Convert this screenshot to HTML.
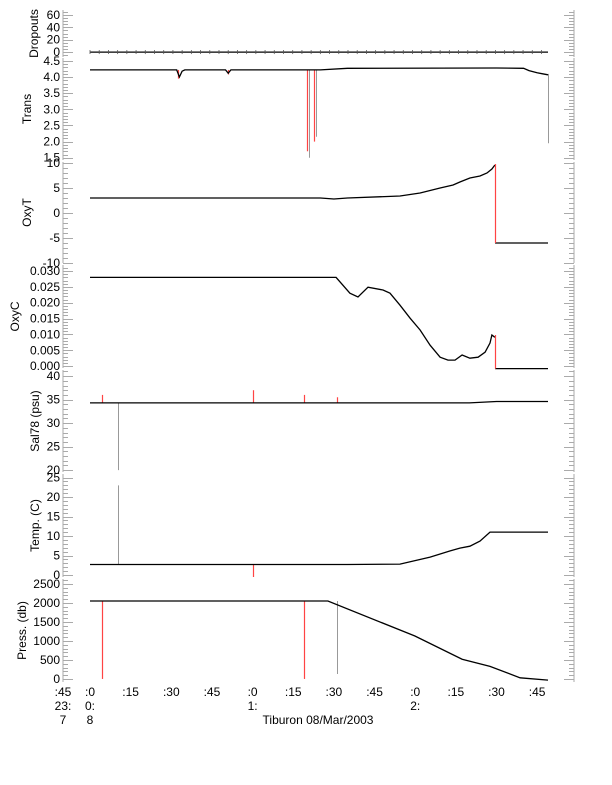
<!DOCTYPE html>
<html><head><meta charset="utf-8"><style>
html,body{margin:0;padding:0;background:#fff}
svg{display:block;font-family:"Liberation Sans",sans-serif}
</style></head><body>
<svg id="c" width="612" height="785" viewBox="0 0 612 785" xmlns="http://www.w3.org/2000/svg"></svg>
<script>
// ---- data (minutes after 00:00, values) ----
const xTickMinutes = [-10,0,15,30,45,60,75,90,105,120,135,150,165];
const xTickLabels1 = [":45",":0",":15",":30",":45",":0",":15",":30",":45",":0",":15",":30",":45"];
const xTickLabels2 = ["23:","0:","","","","1:","","","","2:","","",""];
const xTickLabels3 = ["7","8","","","","","","","","","","",""];

const dropT = [0,169];
const dropV = [0,0];

const transT = [0,32,33,34,35,50,51,52,85,95,150,160,162,165,167,169];
const transV = [4.22,4.22,4.0,4.18,4.22,4.22,4.12,4.22,4.22,4.27,4.28,4.27,4.2,4.13,4.1,4.07];
const transSpikeT = [32.5,50.8,80.2,82.6];
const transSpikeV = [3.95,4.08,1.7,2.0];
const transGrayT = [80.8,83.4,169];
const transGrayV = [1.5,2.15,1.95];

const oxyTT = [0,85,90,95,114.4,121.8,129.2,134,136.5,140.2,143.9,146.5,148.3,149.4,149.5,169];
const oxyTV = [3,3,2.8,3,3.4,4,5,5.6,6.2,7,7.4,8,8.8,9.6,-6,-6];

const oxyCT = [0,90.8,95.9,98.9,102.6,108.1,110.7,114.4,118.1,121.8,125.5,129.2,132.1,134.7,137.3,140.2,143.2,145.8,147.6,148.3,149.4,149.5,169];
const oxyCV = [0.028,0.028,0.023,0.0218,0.0249,0.024,0.023,0.0192,0.0151,0.0114,0.0066,0.0028,0.0019,0.0019,0.0035,0.0025,0.0028,0.0044,0.0073,0.0098,0.0091,-0.0008,-0.0008];

const salT = [0,140,150,169];
const salV = [34.3,34.3,34.6,34.6];
const salSpikeT = [4.4,60,79,91];
const salSpikeV = [36,37,36,35.5];
const salGrayT = [10.3];
const salGrayV = [20];

const tempT = [0,95,114.4,125.5,132.9,136.5,140.2,143.9,147.6,169];
const tempV = [2.7,2.7,2.8,4.6,6.2,6.9,7.4,8.7,11,11];
const tempSpikeT = [60];
const tempSpikeV = [-0.5];
const tempGrayT = [10.3];
const tempGrayV = [23];

const pressT = [0,87.8,119.9,137.3,147.6,158.7,169];
const pressV = [2050,2050,1130,520,330,30,-30];
const pressSpikeT = [4.4,79];
const pressSpikeV = [0,0];
const pressGrayT = [91];
const pressGrayV = [130];

// ---- layout ----
const svg = document.getElementById('c');
const NS = 'http://www.w3.org/2000/svg';
const X0 = 90, PXM = 2.71, AXL = 63, AXR = 574;
function xs(m){ return Math.max(AXL, X0 + m*PXM); }
function mk(tag, attrs, parent){ const e=document.createElementNS(NS,tag); for(const k in attrs) e.setAttribute(k,attrs[k]); (parent||svg).appendChild(e); return e; }

const panels = [
 {name:'dropouts', title:'Dropouts', tx:34, top:10, bot:57, lo:-8, hi:68, major:20, minor:5, majors:[0,20,40,60], fmt:v=>String(v)},
 {name:'trans', title:'Trans', tx:27, top:58, bot:160, lo:1.43, hi:4.59, major:0.5, minor:0.1, majors:[1.5,2,2.5,3,3.5,4,4.5], fmt:v=>v.toFixed(1)},
 {name:'oxyt', title:'OxyT', tx:27, top:162, bot:263, lo:-10, hi:10.2, major:5, minor:1, majors:[-10,-5,0,5,10], fmt:v=>String(v)},
 {name:'oxyc', title:'OxyC', tx:15, top:265, bot:368, lo:-0.0006, hi:0.0319, major:0.005, minor:0.001, majors:[0,0.005,0.01,0.015,0.02,0.025,0.03], fmt:v=>v.toFixed(3)},
 {name:'sal78', title:'Sal78 (psu)', tx:35, top:370, bot:472, lo:19.6, hi:41.3, major:5, minor:1, majors:[20,25,30,35,40], fmt:v=>String(v)},
 {name:'temp', title:'Temp. (C)', tx:35, top:474, bot:577, lo:-0.5, hi:25.9, major:5, minor:1, majors:[0,5,10,15,20,25], fmt:v=>String(v)},
 {name:'press', title:'Press. (db)', tx:22, top:579, bot:682, lo:-80, hi:2630, major:500, minor:100, majors:[0,500,1000,1500,2000,2500], fmt:v=>String(v)}
];
function ysF(p){ return v => p.bot - (v-p.lo)/(p.hi-p.lo)*(p.bot-p.top); }

panels.forEach(p=>{
  const g = mk('g',{});
  
  
  const ys = ysF(p);
  const la = mk('line',{x1:AXL,x2:AXL,y1:p.top,y2:p.bot,stroke:'#aaa','stroke-width':1},g);
  
  
  const ra = mk('line',{x1:AXR,x2:AXR,y1:p.top,y2:p.bot,stroke:'#aaa','stroke-width':1},g);
  
  
  const n0 = Math.ceil(p.lo/p.minor - 1e-6), n1 = Math.floor(p.hi/p.minor + 1e-6);
  for(let i=n0;i<=n1;i++){
    const v=i*p.minor, y=Math.round(ys(v))+0.5;
    const isMaj = Math.abs(v/p.major - Math.round(v/p.major))<1e-6;
    const L = isMaj?10:5;
    mk('line',{x1:AXL,x2:AXL+L,y1:y,y2:y,stroke:'#aaa','stroke-width':1},g);
    mk('line',{x1:AXR-L,x2:AXR,y1:y,y2:y,stroke:'#aaa','stroke-width':1},g);
  }
  p.majors.forEach(v=>{
    const t = mk('text',{x:60,y:ys(v)+4,'text-anchor':'end','font-size':12,fill:'#000'},g);
    t.textContent = p.fmt(v);
    
    
  });
  const cy=(p.top+p.bot)/2;
  const tt = mk('text',{x:p.tx,y:cy,'text-anchor':'middle','font-size':12,fill:'#000',transform:`rotate(-90 ${p.tx} ${cy})`,dy:4},g);
  tt.textContent = p.title;
  
  
  p.g=g; p.ys=ys;
});

function series(p, T, V, name){
  let d='';
  for(let i=0;i<T.length;i++){
    const x=xs(T[i]), y=p.ys(V[i]);
    let cmd='L';
    if(i===0) cmd='M';
    else { const dx=x-xs(T[i-1]), dy=Math.abs(y-p.ys(V[i-1])); if(dx<1 && dy>5) cmd='M'; }
    d+=cmd+x.toFixed(1)+','+y.toFixed(1)+' ';
  }
  const e = mk('path',{d:d,fill:'none',stroke:'#000','stroke-width':1.3},p.g);
  
  
}
function spikes(p, baseT, baseV, T, V, color, name){
  T.forEach((t,i)=>{
    let b=baseV[baseV.length-1];
    for(let k=0;k<baseT.length-1;k++){ if(t>=baseT[k]&&t<=baseT[k+1]){ b=baseV[k]; break; } }
    const x=Math.round(xs(t))+0.5;
    const e = mk('line',{x1:x,x2:x,y1:p.ys(b),y2:p.ys(V[i]),stroke:color,'stroke-width':color===RED?1.2:1},p.g);
    
    
  });
}
const P = {}; panels.forEach(p=>P[p.name]=p);
const RED='#ff4444', GRAY='#999';

series(P.dropouts, dropT, dropV, 'dropouts-line');
for(let m=0;m<=169;m+=3.4){ const x=xs(m); mk('line',{x1:x,x2:x,y1:P.dropouts.ys(0)-2,y2:P.dropouts.ys(0)+2,stroke:'#555','stroke-width':0.8},P.dropouts.g); }

spikes(P.trans, transT, transV, transGrayT, transGrayV, GRAY, 'trans-outlier');
spikes(P.trans, transT, transV, transSpikeT, transSpikeV, RED, 'trans-spike');
series(P.trans, transT, transV, 'trans-line');

series(P.oxyt, oxyTT, oxyTV, 'oxyt-line');
spikes(P.oxyt, [149.4,149.5],[9.8,9.8],[149.5],[-6], RED, 'oxyt-drop');

series(P.oxyc, oxyCT, oxyCV, 'oxyc-line');
spikes(P.oxyc, [149.4,149.5],[0.0098,0.0098],[149.5],[-0.0008], RED, 'oxyc-drop');

spikes(P.sal78, salT, salV, salSpikeT, salSpikeV, RED, 'sal78-spike');
spikes(P.sal78, salT, salV, salGrayT, salGrayV, GRAY, 'sal78-outlier');
series(P.sal78, salT, salV, 'sal78-line');

spikes(P.temp, tempT, tempV, tempSpikeT, tempSpikeV, RED, 'temp-spike');
spikes(P.temp, tempT, tempV, tempGrayT, tempGrayV, GRAY, 'temp-outlier');
series(P.temp, tempT, tempV, 'temp-line');

spikes(P.press, pressT, pressV, pressSpikeT, pressSpikeV, RED, 'press-spike');
spikes(P.press, [0,87.8,91,92],[2050,2050,1950,1950], pressGrayT, pressGrayV, GRAY, 'press-outlier');
series(P.press, pressT, pressV, 'press-line');

const xg = mk('g',{});


xTickMinutes.forEach((m,i)=>{
  const x = xs(m);
  [[xTickLabels1[i],696],[xTickLabels2[i],710],[xTickLabels3[i],724]].forEach(([s,y])=>{
    if(!s) return;
    const t = mk('text',{x:x,y:y,'text-anchor':'middle','font-size':12,fill:'#000'},xg);
    t.textContent = s;
    
    
  });
});
const cap = mk('text',{x:318,y:724,'text-anchor':'middle','font-size':12,fill:'#000'},xg);
cap.textContent = 'Tiburon 08/Mar/2003';


</script>
</body></html>
